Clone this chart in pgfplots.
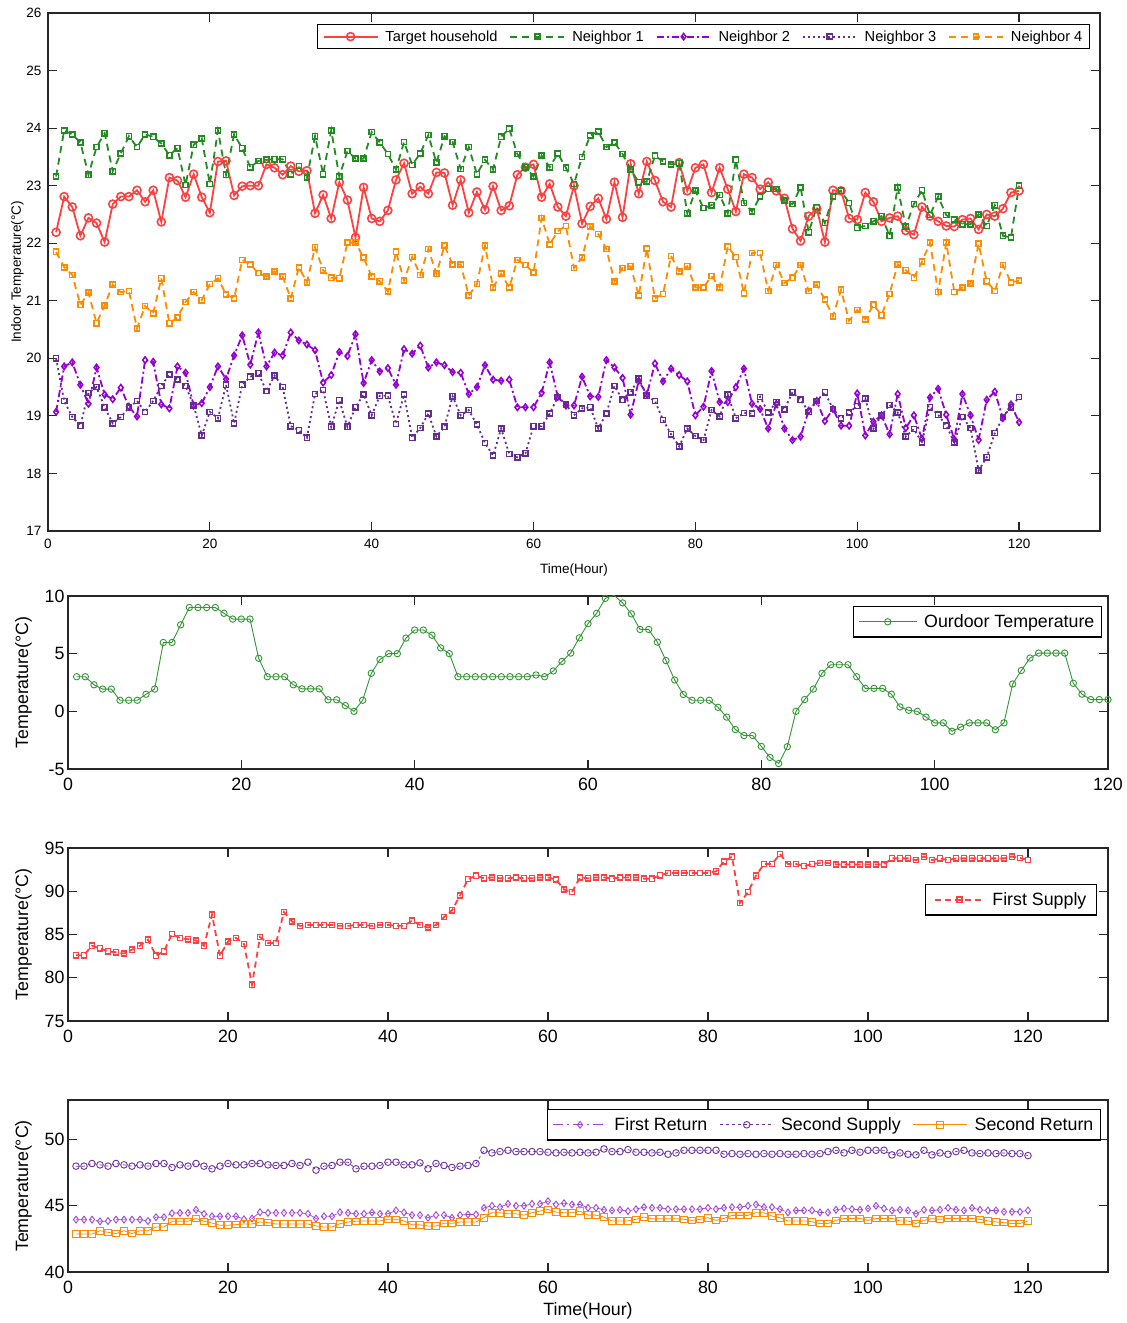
\documentclass[border=0pt]{standalone}
\usepackage{fontspec}
\setmainfont{Liberation Sans}
\usepackage{pgfplots}
\usepackage{pgfplotstable}
\pgfplotsset{compat=1.18}

\definecolor{cTarget}{RGB}{255,64,64}
\definecolor{cN1}{RGB}{34,139,34}
\definecolor{cN2}{RGB}{148,0,211}
\definecolor{cN3}{RGB}{102,45,145}
\definecolor{cN4}{RGB}{255,140,0}
\definecolor{cOut}{RGB}{50,150,50}
\definecolor{cFS}{RGB}{255,64,64}
\definecolor{cFR}{RGB}{160,70,220}
\definecolor{cSS}{RGB}{110,50,160}
\definecolor{cSR}{RGB}{255,140,0}

\newcommand\fa{\fontsize{13.5}{16}\selectfont}
\newcommand\fl{\fontsize{14.6}{17}\selectfont}
\newcommand\fb{\fontsize{17.8}{20}\selectfont}

% Panel 1: t, target, neighbor1..4
\pgfplotstableread{
t a b c d e
1 22.19 23.16 19.07 20.00 21.85
2 22.81 23.96 19.86 19.26 21.58
3 22.63 23.89 19.93 18.98 21.45
4 22.13 23.75 19.54 18.83 20.93
5 22.44 23.19 19.21 19.40 21.14
6 22.35 23.67 19.84 19.50 20.61
7 22.02 23.91 19.37 19.15 20.92
8 22.68 23.25 19.29 18.87 21.28
9 22.81 23.56 19.49 18.98 21.15
10 22.81 23.86 19.16 19.14 21.17
11 22.92 23.67 18.99 19.26 20.52
12 22.72 23.89 19.97 19.07 20.91
13 22.92 23.85 19.94 19.26 20.78
14 22.37 23.73 19.20 19.52 21.39
15 23.14 23.53 19.13 19.72 20.61
16 23.09 23.65 19.86 19.63 20.71
17 22.80 23.01 19.75 19.52 20.98
18 23.20 23.71 19.18 19.18 21.15
19 22.80 23.82 19.22 18.66 21.01
20 22.53 23.03 19.50 19.07 21.29
21 23.42 23.96 19.86 18.96 21.39
22 23.43 23.19 19.64 19.54 21.11
23 22.83 23.89 20.05 18.87 21.04
24 22.99 23.65 20.40 19.54 21.71
25 23.00 23.32 19.89 19.68 21.63
26 23.00 23.43 20.45 19.74 21.48
27 23.37 23.45 19.86 19.43 21.42
28 23.31 23.46 20.10 19.70 21.51
29 23.19 23.46 20.05 19.50 21.42
30 23.34 23.20 20.45 18.82 21.04
31 23.25 23.34 20.31 18.75 21.58
32 23.26 23.14 20.24 18.62 21.32
33 22.52 23.86 20.14 19.38 21.93
34 22.84 23.20 19.58 19.45 21.53
35 22.43 23.96 19.71 18.81 21.40
36 23.06 23.16 20.11 19.27 21.39
37 22.75 23.60 20.04 18.81 22.01
38 22.10 23.47 20.42 19.15 22.01
39 22.97 23.47 19.57 19.37 21.75
40 22.43 23.93 19.97 19.01 21.42
41 22.38 23.75 19.77 19.35 21.34
42 22.57 23.55 19.83 19.35 21.16
43 23.10 23.28 19.54 18.86 21.85
44 23.39 23.76 20.16 19.37 21.35
45 22.86 23.36 20.08 18.62 21.76
46 22.98 23.56 20.22 18.79 21.45
47 22.86 23.88 19.84 19.04 21.90
48 23.23 23.40 19.93 18.64 21.47
49 23.22 23.86 19.88 18.81 21.96
50 22.66 23.76 19.76 19.34 21.63
51 23.10 23.29 19.75 19.01 21.63
52 22.53 23.67 19.38 19.10 21.09
53 22.89 23.20 19.50 18.85 21.29
54 22.58 23.45 19.88 18.53 21.96
55 22.99 23.28 19.63 18.31 21.23
56 22.57 23.85 19.61 18.78 21.47
57 22.65 23.99 19.63 18.34 21.23
58 23.19 23.55 19.15 18.28 21.71
59 23.32 23.32 19.15 18.35 21.62
60 23.37 23.16 19.15 18.82 21.49
61 22.80 23.52 19.40 18.82 22.44
62 23.03 23.32 19.93 19.04 21.98
63 22.63 23.56 19.33 19.33 22.21
64 22.47 23.31 19.18 19.20 22.30
65 23.00 23.03 19.18 19.01 21.57
66 22.34 23.50 19.68 19.13 21.75
67 22.64 23.87 19.34 19.15 22.29
68 22.78 23.94 19.33 18.78 22.16
69 22.42 23.67 19.97 19.04 21.90
70 23.06 23.75 19.84 19.52 21.34
71 22.45 23.55 19.66 19.28 21.57
72 23.38 23.28 19.02 19.41 21.60
73 22.86 23.06 19.61 19.65 21.09
74 23.42 23.07 19.37 19.35 21.91
75 23.09 23.52 19.91 19.26 21.04
76 22.72 23.42 19.60 18.93 21.12
77 22.63 23.37 19.82 18.68 21.78
78 23.40 23.39 19.71 18.47 21.51
79 22.91 22.52 19.60 18.78 21.60
80 23.31 22.91 19.01 18.65 21.23
81 23.37 22.61 19.16 18.58 21.23
82 22.88 22.66 19.78 19.10 21.43
83 23.31 22.84 19.24 18.99 21.23
84 22.94 22.52 19.24 19.37 21.94
85 22.55 23.45 19.50 18.96 21.76
86 23.20 22.70 19.82 19.05 21.13
87 23.14 22.55 19.21 19.04 21.83
88 22.94 22.81 19.12 19.33 21.83
89 23.06 22.94 18.78 19.06 21.17
90 22.91 22.94 19.21 19.24 21.62
91 22.78 22.74 18.78 19.11 21.31
92 22.25 22.68 18.58 19.41 21.40
93 22.04 22.97 18.64 19.28 21.62
94 22.47 22.19 19.09 19.07 21.17
95 22.60 22.63 19.26 19.26 21.28
96 22.02 22.35 18.91 19.41 21.02
97 22.92 22.81 19.12 19.12 20.73
98 22.91 22.91 18.83 18.96 21.19
99 22.43 22.70 18.83 19.06 20.65
100 22.41 22.27 19.39 19.17 20.84
101 22.88 22.30 18.66 19.30 20.68
102 22.72 22.38 18.90 18.78 20.93
103 22.38 22.47 19.01 19.01 20.75
104 22.44 22.13 18.68 19.19 21.12
105 22.47 22.97 19.38 19.06 21.63
106 22.22 22.29 18.79 18.64 21.53
107 22.15 22.68 19.01 18.77 21.40
108 22.63 22.92 18.60 18.54 21.68
109 22.47 22.49 19.32 19.15 22.01
110 22.38 22.81 19.47 19.02 21.15
111 22.30 22.49 19.02 18.83 22.01
112 22.29 22.41 18.59 18.54 21.15
113 22.41 22.33 19.38 18.98 21.23
114 22.43 22.33 19.01 18.79 21.30
115 22.24 22.50 18.58 18.05 21.99
116 22.50 22.30 19.28 18.28 21.34
117 22.47 22.66 19.42 18.70 21.17
118 22.60 22.13 18.96 18.98 21.62
119 22.88 22.10 19.20 19.15 21.32
120 22.91 23.00 18.89 19.33 21.35
}\tA

% Panels 2-4: t, outdoor, first supply, first return, second supply, second return
\pgfplotstableread{
t o s fr ss sr
1 3.0 82.6 43.96 48.0 42.87
2 3.0 82.6 43.96 48.0 42.87
3 2.3 83.7 43.96 48.2 42.87
4 1.93 83.4 43.83 48.1 43.12
5 1.93 83.05 43.85 48.0 43.0
6 0.96 82.95 43.96 48.2 42.9
7 0.96 82.8 43.96 48.1 43.12
8 0.96 83.25 43.96 48.0 42.9
9 1.48 83.7 43.96 48.1 43.12
10 1.93 84.4 43.85 48.0 43.12
11 5.97 82.55 44.14 48.2 43.4
12 5.97 83.05 44.14 48.2 43.4
13 7.5 85.05 44.44 47.9 43.83
14 9.0 84.6 44.47 48.1 43.83
15 9.0 84.45 44.47 48.0 43.83
16 9.0 84.3 44.7 48.2 44.04
17 9.0 83.7 44.39 48.0 43.83
18 8.5 87.3 44.21 47.8 43.7
19 8.0 82.55 44.21 48.0 43.53
20 8.0 84.2 44.21 48.2 43.53
21 8.0 84.6 44.21 48.1 43.58
22 4.6 83.9 43.99 48.1 43.63
23 3.0 79.2 44.04 48.2 43.63
24 3.0 84.7 44.52 48.2 43.78
25 3.0 84.0 44.47 48.1 43.73
26 2.3 84.0 44.47 48.05 43.63
27 1.95 87.6 44.47 48.05 43.63
28 1.95 86.5 44.47 48.2 43.63
29 1.95 86.0 44.47 48.05 43.63
30 1.0 86.1 44.4 48.3 43.63
31 1.0 86.1 44.04 47.7 43.48
32 0.5 86.1 44.21 48.0 43.4
33 0.0 86.1 44.21 48.05 43.4
34 0.96 86.0 44.52 48.3 43.65
35 3.3 86.0 44.47 48.3 43.78
36 4.5 86.1 44.4 47.8 43.83
37 5.0 86.1 44.4 48.0 43.86
38 5.0 86.0 44.5 48.0 43.86
39 6.35 86.1 44.4 48.05 43.86
40 7.05 86.1 44.4 48.3 43.98
41 7.05 86.0 44.65 48.3 43.98
42 6.6 86.0 44.5 48.1 43.86
43 5.5 86.6 44.3 48.1 43.56
44 5.0 86.1 44.3 48.25 43.56
45 3.0 85.8 44.1 47.8 43.48
46 3.0 86.1 44.3 48.2 43.48
47 3.0 87.0 44.3 48.05 43.68
48 3.0 87.8 44.1 47.9 43.68
49 3.0 89.5 44.3 48.0 43.78
50 3.0 91.4 44.35 48.05 43.78
51 3.0 91.8 44.35 48.2 43.78
52 3.0 91.5 44.85 49.2 44.1
53 3.0 91.6 45.0 49.0 44.48
54 3.15 91.5 44.9 49.1 44.48
55 3.0 91.5 45.15 49.2 44.4
56 3.5 91.6 45.0 49.1 44.4
57 4.33 91.5 45.0 49.1 44.3
58 5.05 91.5 45.15 49.1 44.48
59 6.37 91.6 45.15 49.1 44.6
60 7.6 91.6 45.35 49.05 44.73
61 8.5 91.35 45.1 49.0 44.53
62 9.8 90.2 45.2 49.05 44.48
63 10.06 89.9 45.1 49.0 44.48
64 9.4 91.6 45.1 49.05 44.6
65 8.45 91.5 44.85 49.0 44.3
66 7.1 91.6 44.85 49.05 44.3
67 7.1 91.6 44.7 49.3 44.15
68 6.0 91.45 44.65 49.1 43.86
69 4.4 91.6 44.7 49.1 43.86
70 2.72 91.6 44.6 49.25 43.86
71 1.46 91.6 44.75 49.05 43.98
72 0.96 91.45 44.9 49.05 44.15
73 0.96 91.45 44.85 49.0 44.03
74 0.96 91.85 44.85 49.05 44.03
75 0.35 92.1 44.75 48.9 44.03
76 -0.5 92.1 44.75 49.0 44.03
77 -1.58 92.1 44.75 49.2 43.98
78 -2.1 92.1 44.75 49.2 43.9
79 -2.1 92.1 44.75 49.2 43.98
80 -3.04 92.1 44.85 49.2 44.1
81 -4.0 92.3 44.75 49.2 43.9
82 -4.53 93.45 44.85 48.9 44.05
83 -3.07 94.0 44.9 48.95 44.28
84 0.0 88.65 44.9 48.9 44.28
85 1.02 89.9 45.0 48.95 44.28
86 1.93 91.8 45.1 48.9 44.48
87 3.3 93.15 44.9 48.95 44.48
88 4.04 93.15 44.9 48.9 44.23
89 4.04 94.3 44.75 48.95 44.1
90 4.04 93.15 44.5 48.9 43.86
91 3.0 93.15 44.65 48.9 43.86
92 1.99 92.9 44.65 48.95 43.86
93 1.99 93.15 44.65 48.9 43.8
94 1.99 93.25 44.5 48.95 43.66
95 1.49 93.25 44.5 49.1 43.66
96 0.38 93.1 44.7 49.2 43.9
97 0.09 93.1 44.8 49.0 44.05
98 0.0 93.1 44.75 49.2 44.05
99 -0.5 93.1 44.7 49.05 44.05
100 -1.0 93.1 44.8 49.2 43.9
101 -1.0 93.1 45.0 49.2 44.05
102 -1.73 93.1 44.8 49.2 44.05
103 -1.37 93.8 44.65 48.85 44.05
104 -1.0 93.8 44.7 49.0 43.86
105 -1.0 93.8 44.65 48.9 43.86
106 -1.0 93.6 44.4 48.85 43.66
107 -1.6 94.0 44.7 49.2 43.9
108 -1.0 93.6 44.65 48.85 44.03
109 2.37 93.8 44.7 49.0 43.98
110 3.54 93.6 44.85 48.9 44.05
111 4.62 93.8 44.7 49.1 44.05
112 5.05 93.8 44.65 49.2 44.05
113 5.05 93.8 44.85 49.0 44.05
114 5.05 93.8 44.7 48.95 43.98
115 5.05 93.8 44.65 49.0 43.86
116 2.43 93.8 44.65 48.95 43.78
117 1.49 93.8 44.55 49.0 43.73
118 1.02 94.0 44.55 48.95 43.66
119 1.02 93.85 44.55 48.95 43.66
120 1.02 93.6 44.65 48.8 43.86
}\tB

\pgfplotsset{
  panel/.style={
    scale only axis, anchor=south west,
    axis line style={line width=1.2pt, black!85},
    every tick/.style={line width=1.2pt, black!85},
    major tick length=9pt, tick align=inside,
    legend cell align=left,
    /pgf/number format/assume math mode=true,
    legend style={draw=black, line width=1.2pt, fill=white, inner xsep=5pt, inner ysep=4pt,
      /tikz/every odd column/.append style={column sep=5pt}},
  },
}

\begin{document}
\begin{tikzpicture}
\path[use as bounding box] (0pt,0pt) rectangle (1127pt,1323pt);

% ---------- Panel 1 ----------
\begin{axis}[panel,
  at={(48pt,792pt)}, width=1052pt, height=518pt,
  xmin=0, xmax=130, ymin=17, ymax=26,
  xtick={0,20,...,120}, ytick={17,18,...,26},
  ticklabel style={font=\fa},
  xticklabel style={yshift=-5pt},
  yticklabel style={xshift=-3pt},
  label style={font=\fa},
  xlabel={Time(Hour)}, ylabel={Indoor Temperature(°C)},
  xlabel style={yshift=-8pt},
  ylabel style={yshift=-4pt},
  legend columns=5,
  legend style={at={(1,1)}, anchor=north east, xshift=-10pt, yshift=-11pt, font=\fl,
    /tikz/every even column/.append style={column sep=10pt}},
  legend image code/.code={\draw[mark repeat=2,mark phase=2,#1] plot coordinates {(0pt,0pt) (27pt,0pt) (54pt,0pt)};},
]
\addplot[cTarget, line width=1.8pt, mark=o, mark size=4pt, mark options={solid, line width=1.6pt}] table[x=t,y=a]{\tA};
\addplot[cN1, line width=1.8pt, dash pattern=on 7pt off 5pt, mark=square, mark size=2.6pt, mark options={solid, line width=1.5pt}] table[x=t,y=b]{\tA};
\addplot[cN2, line width=1.8pt, dash pattern=on 7pt off 3pt on 2pt off 3pt, mark=diamond, mark size=3.2pt, mark options={solid, line width=1.5pt}] table[x=t,y=c]{\tA};
\addplot[cN3, line width=1.8pt, dash pattern=on 2pt off 3pt, mark=square, mark size=2.6pt, mark options={solid, line width=1.5pt}] table[x=t,y=d]{\tA};
\addplot[cN4, line width=1.8pt, dash pattern=on 7pt off 5pt, mark=square, mark size=2.6pt, mark options={solid, line width=1.5pt}] table[x=t,y=e]{\tA};
\legend{Target household, Neighbor 1, Neighbor 2, Neighbor 3, Neighbor 4}
\end{axis}

% ---------- Panel 2 ----------
\begin{axis}[panel,
  at={(68pt,554pt)}, width=1040pt, height=173pt,
  xmin=0, xmax=120, ymin=-5, ymax=10,
  xtick={0,20,...,120}, ytick={-5,0,5,10},
  ticklabel style={font=\fb},
  xticklabel style={yshift=-6pt},
  label style={font=\fb},
  ylabel={Temperature(°C)},
  ylabel style={yshift=6pt},
  legend style={at={(1,1)}, anchor=north east, xshift=-6pt, yshift=-10pt, font=\fb, inner ysep=6pt},
  legend image code/.code={\draw[mark repeat=2,mark phase=2,#1] plot coordinates {(0pt,0pt) (29pt,0pt) (58pt,0pt)};},
]
\addplot[cOut, line width=0.9pt, mark=o, mark size=3.2pt, mark options={line width=0.9pt}] table[x=t,y=o]{\tB};
\legend{Ourdoor Temperature}
\end{axis}

% ---------- Panel 3 ----------
\begin{axis}[panel,
  at={(68pt,302pt)}, width=1040pt, height=173pt,
  xmin=0, xmax=130, ymin=75, ymax=95,
  xtick={0,20,...,120}, ytick={75,80,...,95},
  ticklabel style={font=\fb},
  xticklabel style={yshift=-6pt},
  label style={font=\fb},
  ylabel={Temperature(°C)},
  ylabel style={yshift=6pt},
  legend style={at={(1,1)}, anchor=north east, xshift=-11pt, yshift=-36pt, font=\fb, inner ysep=6pt, inner xsep=8pt},
  legend image code/.code={\draw[mark repeat=2,mark phase=2,#1] plot coordinates {(0pt,0pt) (25pt,0pt) (50pt,0pt)};},
]
\addplot[cFS, line width=1.8pt, dash pattern=on 6pt off 4pt, mark=square, mark size=2.6pt, mark options={solid, line width=1.4pt}] table[x=t,y=s]{\tB};
\legend{First Supply}
\end{axis}

% ---------- Panel 4 ----------
\begin{axis}[panel,
  at={(68pt,51pt)}, width=1040pt, height=172pt,
  xmin=0, xmax=130, ymin=40, ymax=53,
  xtick={0,20,...,120}, ytick={40,45,50},
  ticklabel style={font=\fb},
  xticklabel style={yshift=-6pt},
  label style={font=\fb},
  xlabel={Time(Hour)}, ylabel={Temperature(°C)},
  xlabel style={yshift=-2pt},
  ylabel style={yshift=6pt},
  legend columns=3,
  legend style={at={(1,1)}, anchor=north east, xshift=-7pt, yshift=-9pt, font=\fb, inner ysep=6pt,
    /tikz/every even column/.append style={column sep=10pt}},
  legend image code/.code={\draw[mark repeat=2,mark phase=2,#1] plot coordinates {(0pt,0pt) (27pt,0pt) (54pt,0pt)};},
]
\addplot[cFR, line width=0.7pt, dash pattern=on 10pt off 4pt on 2pt off 4pt, mark=diamond, mark size=3.4pt, mark options={solid, line width=0.9pt}] table[x=t,y=fr]{\tB};
\addplot[cSS, line width=0.7pt, dash pattern=on 3pt off 3pt, mark=o, mark size=3.3pt, mark options={solid, line width=0.9pt}] table[x=t,y=ss]{\tB};
\addplot[cSR, line width=0.8pt, mark=square, mark size=3.3pt, mark options={solid, line width=1.0pt}] table[x=t,y=sr]{\tB};
\legend{First Return, Second Supply, Second Return}
\end{axis}
\end{tikzpicture}
\end{document}
